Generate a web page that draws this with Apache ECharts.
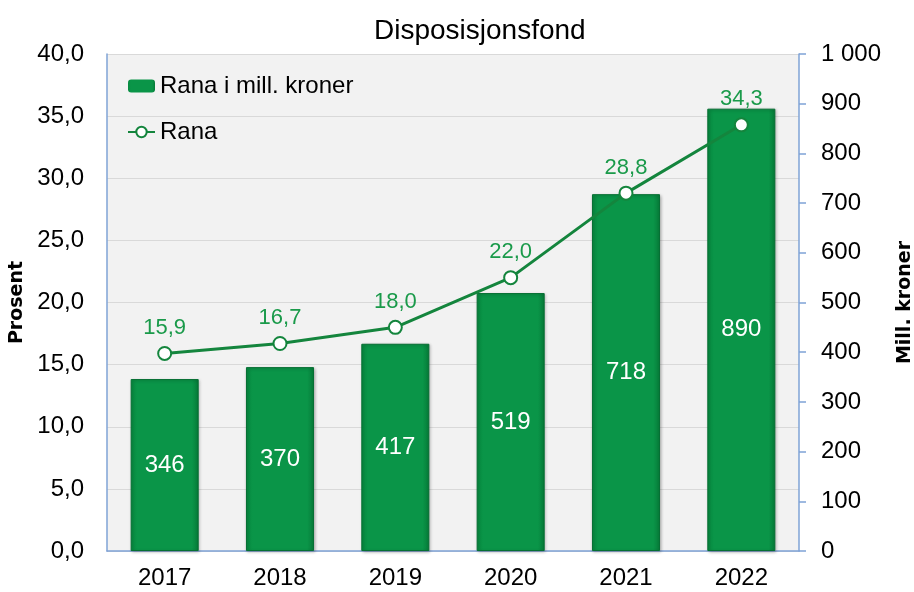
<!DOCTYPE html>
<html>
<head>
<meta charset="utf-8">
<script src="https://cdn.jsdelivr.net/npm/echarts@6/dist/echarts.min.js"></script>
<style>
html, body { margin: 0; padding: 0; background: #fff; }
#chart { width: 914px; height: 592px; }
</style>
</head>
<body>
<div id="chart"></div>
<script>
// data
var years = ['2017', '2018', '2019', '2020', '2021', '2022'];
var millKroner = [346, 370, 417, 519, 718, 890];
var prosent = [15.9, 16.7, 18.0, 22.0, 28.8, 34.3];

function komma(v) {
	return v.toFixed(1).replace('.', ',');
}

var chart = echarts.init(document.getElementById('chart'));
var option = {
	backgroundColor: '#fff',
	textStyle: { fontFamily: 'Liberation Sans, Arial, sans-serif' },
	title: {
		text: 'Disposisjonsfond',
		left: 369,
		top: 12,
		textStyle: { fontSize: 28, fontWeight: 'normal', color: '#000' }
	},
	legend: {
		orient: 'vertical',
		left: 122,
		top: 69,
		itemGap: 22,
		itemWidth: 27,
		itemHeight: 13,
		textStyle: { fontSize: 24, color: '#000' },
		data: [
			{ name: 'Rana i mill. kroner', itemStyle: { borderWidth: 0 } },
			{ name: 'Rana' }
		]
	},
	grid: {
		left: 107,
		right: 115,
		top: 54,
		bottom: 41,
		containLabel: false,
		outerBoundsMode: 'none',
		show: true,
		backgroundColor: '#f2f2f2',
		borderWidth: 0
	},
	xAxis: {
		type: 'category',
		data: years,
		axisLine: { lineStyle: { color: '#7fa3d6', width: 1.5 } },
		axisTick: { show: false },
		axisLabel: { fontSize: 24, color: '#000', margin: 15 }
	},
	yAxis: [
		{
			type: 'value',
			min: 0,
			max: 40,
			interval: 5,
			name: 'Prosent',
			nameLocation: 'middle',
			nameRotate: 90,
			nameGap: 80,
			nameTextStyle: { fontSize: 19, fontWeight: 'bold', fontFamily: 'DejaVu Sans', color: '#000' },
			axisLine: { show: true, lineStyle: { color: '#7fa3d6', width: 1.5 } },
			axisTick: { show: false },
			axisLabel: { fontSize: 24, color: '#000', margin: 23, formatter: komma },
			splitLine: { lineStyle: { color: '#d9d9d9', width: 1 } }
		},
		{
			type: 'value',
			min: 0,
			max: 1000,
			interval: 100,
			position: 'right',
			name: 'Mill. kroner',
			nameLocation: 'middle',
			nameRotate: 90,
			nameGap: 97,
			nameTextStyle: { fontSize: 19, fontWeight: 'bold', fontFamily: 'DejaVu Sans', color: '#000' },
			axisLine: { show: true, lineStyle: { color: '#7fa3d6', width: 1.5 } },
			axisTick: { show: true, length: 7, lineStyle: { color: '#7fa3d6', width: 1.5 } },
			axisLabel: {
				fontSize: 24, color: '#000', margin: 22,
				formatter: function (v) { return v >= 1000 ? '1 000' : String(v); }
			},
			splitLine: { show: false }
		}
	],
	series: [
		{
			name: 'Rana i mill. kroner',
			type: 'bar',
			yAxisIndex: 1,
			data: millKroner,
			barWidth: '59%',
			itemStyle: {
				color: new echarts.graphic.LinearGradient(0, 0, 1, 0, [
					{ offset: 0, color: '#078a40' },
					{ offset: 0.1, color: '#0a9548' },
					{ offset: 0.9, color: '#0a9548' },
					{ offset: 1, color: '#067a38' }
				]),
				borderColor: '#066f33',
				borderWidth: 1,
				shadowColor: 'rgba(0,0,0,0.25)',
				shadowBlur: 3,
				shadowOffsetX: 1,
				shadowOffsetY: 1
			},
			label: {
				show: true,
				position: 'inside',
				fontSize: 24,
				color: '#fff'
			},
			z: 2
		},
		{
			name: 'Rana',
			type: 'line',
			yAxisIndex: 0,
			data: prosent,
			symbol: 'circle',
			symbolSize: 13,
			lineStyle: { color: '#14853d', width: 3 },
			itemStyle: { color: '#fff', borderColor: '#14853d', borderWidth: 2 },
			label: {
				show: true,
				position: 'top',
				distance: 7,
				fontSize: 22,
				color: '#1a9a4a',
				formatter: function (p) { return komma(p.value); }
			},
			z: 5
		}
	]
};
chart.setOption(option);
</script>
</body>
</html>
